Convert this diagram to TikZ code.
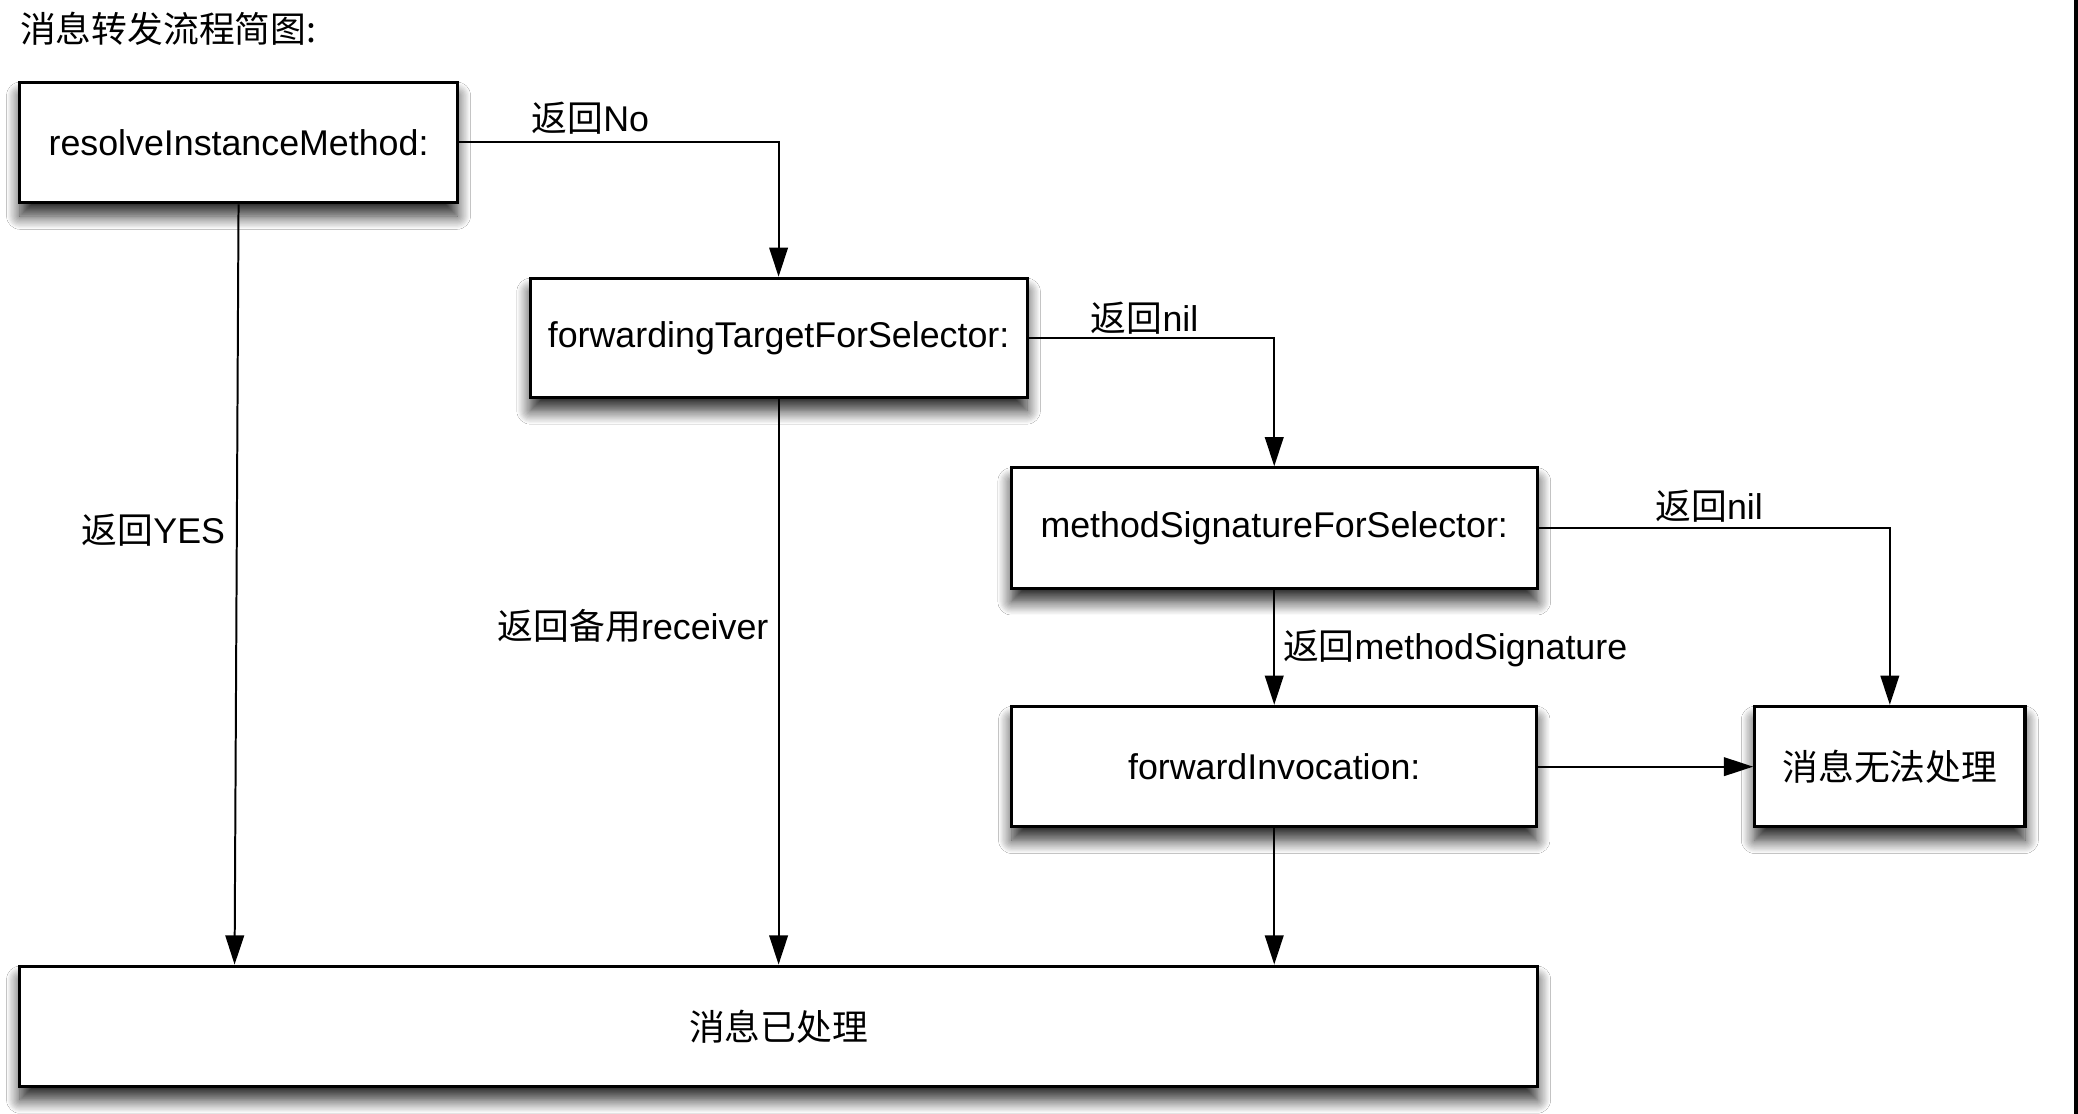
\documentclass[tikz,border=0pt]{standalone}
\usepackage{fontspec}
\setmainfont{Liberation Sans}
\newfontfamily\cjk{Noto Sans CJK SC}
\usetikzlibrary{arrows.meta,shadows.blur,calc}
\begin{document}
\begin{tikzpicture}[x=1pt,y=-1pt,
  txt/.style={font=\fontsize{27}{32}\selectfont},
  box/.style={txt, draw=black, line width=2.3pt, fill=white, inner sep=0pt,
    blur shadow={shadow xshift=0pt, shadow yshift=-10pt, shadow blur radius=10pt, shadow opacity=85, shadow blur steps=12}},
  conn/.style={line width=1.5pt, -{Triangle[width=14pt,length=22pt]}},
  lbl/.style={txt, inner sep=0pt}]
\fill[white] (0,0) rectangle (1568,840.58);
\useasboundingbox (0,0) rectangle (1568,840.58);
\fill[black] (1565,0) rectangle (1568,840.58);

\node[lbl, anchor=west] (title) at (15,22) {\cjk 消息转发流程简图:};

\node[box, minimum width=330pt, minimum height=91pt] (r) at (180,107.5) {resolveInstanceMethod:};
\node[box, minimum width=375pt, minimum height=90pt] (ft) at (587.5,255) {forwardingTargetForSelector:};
\node[box, minimum width=397pt, minimum height=91pt] (ms) at (961.5,398.5) {methodSignatureForSelector:};
\node[box, minimum width=396pt, minimum height=91pt] (fi) at (961.5,578.5) {forwardInvocation:};
\node[box, minimum width=204pt, minimum height=91pt] (nf) at (1426,578.5) {{\cjk 消息无法处理}};
\node[box, minimum width=1145pt, minimum height=91pt] (done) at (587.5,774.5) {{\cjk 消息已处理}};

\draw[conn] (r.east) -| (ft.north);
\draw[conn] (ft.east) -| (ms.north);
\draw[conn] (ms.east) -| (nf.north);
\draw[conn] (ms.south) -- (fi.north);
\draw[conn] (fi.east) -- (nf.west);
\draw[conn] (fi.south) -- (fi.south |- done.north);
\draw[conn] (ft.south) -- (ft.south |- done.north);
\draw[conn] (r.south) -- ([xshift=-3pt]r.south |- done.north);

\node[lbl, anchor=west] (l1) at (401,89) {{\cjk 返回}No};
\node[lbl, anchor=west] (l2) at (823,240) {{\cjk 返回}nil};
\node[lbl, anchor=east] (l3) at (170,400) {{\cjk 返回}YES};
\node[lbl, anchor=east] (l4) at (580,472) {{\cjk 返回备用}receiver};
\node[lbl, anchor=west] (l5) at (1249,382) {{\cjk 返回}nil};
\node[lbl, anchor=west] (l6) at (968,489) {{\cjk 返回}methodSignature};
\end{tikzpicture}
\end{document}
